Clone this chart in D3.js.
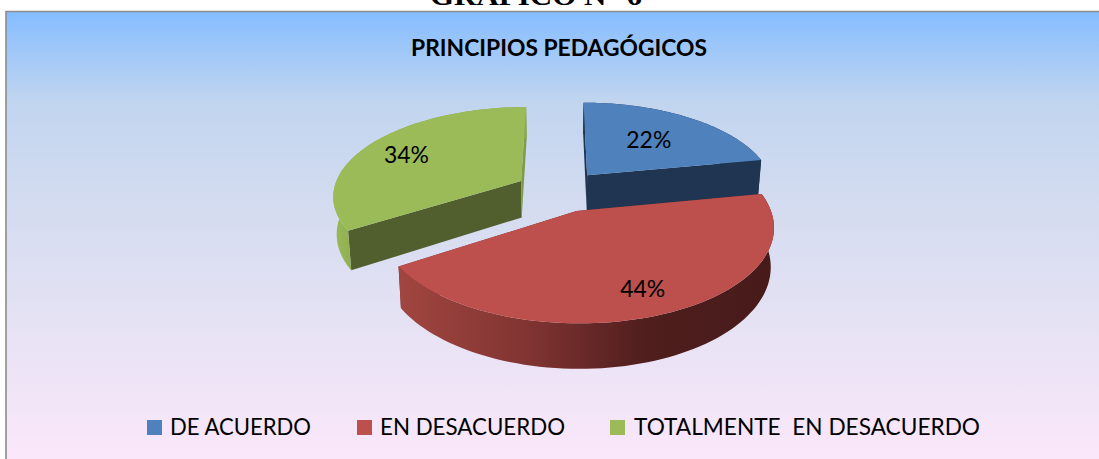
<!DOCTYPE html>
<html>
<head>
<meta charset="utf-8">
<script src="https://cdnjs.cloudflare.com/ajax/libs/d3/7.8.5/d3.min.js"></script>
<style>
  html, body { margin: 0; padding: 0; background: #fff; overflow: hidden; }
  text { font-family: Lato, "Open Sans", sans-serif; fill: #000; }
</style>
</head>
<body>
<div id="chart"></div>
<script>
// data
const categories = ["DE ACUERDO", "EN DESACUERDO", "TOTALMENTE  EN DESACUERDO"];
const percents = [22, 44, 34];
const topColors = ["#4f81bd", "#bd4f4c", "#9bbb59"];
const faceColors = ["#1f3552", "#7a2f2d", "#505f2d"];
const chartTitle = "PRINCIPIOS PEDAGÓGICOS";
const pageTitle = "GRÁFICO N° 6";

const width = 1099, height = 459;

const svg = d3.select("#chart").append("svg")
    .attr("width", width)
    .attr("height", height)
    .style("display", "block");

const defs = svg.append("defs");

// chart area background
const bg = defs.append("linearGradient").attr("id", "bg")
    .attr("x1", 0).attr("y1", 0).attr("x2", 0).attr("y2", 1);
[[0, "#85bdff"], [0.2, "#c1d5ef"], [0.45, "#d5dcf0"], [0.75, "#e9e3f5"], [1, "#fbe7fa"]]
    .forEach(s => bg.append("stop").attr("offset", s[0]).attr("stop-color", s[1]));

// sides of the red slice
const redSide = defs.append("linearGradient").attr("id", "redSide")
    .attr("gradientUnits", "userSpaceOnUse")
    .attr("x1", 403).attr("y1", 0).attr("x2", 775).attr("y2", 0);
[[0, "#a0453f"], [0.35, "#7f3331"], [0.65, "#4f1e1d"], [1, "#471b1a"]]
    .forEach(s => redSide.append("stop").attr("offset", s[0]).attr("stop-color", s[1]));

const greenSide = defs.append("linearGradient").attr("id", "greenSide")
    .attr("gradientUnits", "userSpaceOnUse")
    .attr("x1", 333).attr("y1", 0).attr("x2", 360).attr("y2", 0);
[[0, "#9bbb59"], [1, "#8aa84f"]]
    .forEach(s => greenSide.append("stop").attr("offset", s[0]).attr("stop-color", s[1]));

svg.append("rect")
    .attr("x", 6).attr("y", 12)
    .attr("width", width - 6).attr("height", height - 12)
    .attr("fill", "url(#bg)");
svg.append("path")
    .attr("d", "M6,459V11.5H1099")
    .attr("fill", "none")
    .attr("stroke", "#8c8c8c")
    .attr("stroke-width", 1.6);

// title of the page, cut by the top of the picture
svg.append("text")
    .attr("x", 430).attr("y", 5)
    .attr("textLength", 212)
    .attr("lengthAdjust", "spacingAndGlyphs")
    .style("font-family", "'Liberation Serif', serif")
    .style("font-weight", "bold")
    .style("font-size", "28px")
    .text(pageTitle);

svg.append("text")
    .attr("x", 411).attr("y", 56)
    .style("font-weight", "bold")
    .style("font-size", "23px")
    .attr("textLength", 296)
    .attr("lengthAdjust", "spacingAndGlyphs")
    .text(chartTitle);

// 3D pie: perspective projection of the exploded disc
const cx = 559.5, cy = 191;    // screen position of the disc centre
const R = 188, Rt = 88.2;      // horizontal and foreshortened radius
const persp = 0.153;           // far side gets smaller
const depth = 37;              // thickness of the disc
const explode = 0.237;

const pie = d3.pie().value(d => d).sort(null)(percents);

function project(d, angle, radius, z) {
    const mid = (d.startAngle + d.endAngle) / 2;
    const u = explode * Math.sin(mid) + radius * Math.sin(angle);
    const v = explode * Math.cos(mid) + radius * Math.cos(angle);
    const s = 1 / (1 + persp * v);
    return [
        cx + R * u * s * (z ? 0.985 : 1),
        cy - Rt * v * s + (z ? depth * s : 0)
    ];
}

function rimPoints(d, z) {
    return d3.range(0, 81).map(i => {
        const a = d.startAngle + (d.endAngle - d.startAngle) * i / 80;
        return project(d, a, 1, z);
    });
}

const line = d3.line();
const order = [0, 2, 1];   // far slices first, the red one lies over the rest
const layer = svg.append("g");

order.forEach(i => {
    const d = pie[i];
    const g = layer.append("g");
    const rimTop = rimPoints(d, false);
    const rimBottom = rimPoints(d, true);

    // the two cut walls
    [d.startAngle, d.endAngle].forEach((a, k) => {
        const wall = [project(d, a, 0, false), project(d, a, 1, false),
                      project(d, a, 1, true), project(d, a, 0, true)];
        const fill = (i === 2 && k === 1) ? "#7f9a48" : faceColors[i];
        g.append("path").attr("d", line(wall) + "Z").attr("fill", fill);
    });

    // outer wall
    g.append("path")
        .attr("d", line(rimTop.concat(rimBottom.slice().reverse())) + "Z")
        .attr("fill", i === 1 ? "url(#redSide)" : i === 2 ? "url(#greenSide)" : faceColors[i]);

    // top surface
    g.append("path")
        .attr("d", line([project(d, 0, 0, false)].concat(rimTop)) + "Z")
        .attr("fill", topColors[i]);
});

// percentage labels
const labelAt = [0.58, 0.79, 0.76];
const labelDy = [8, 7, 11];
svg.selectAll("text.pct")
    .data(pie)
    .join("text")
    .attr("class", "pct")
    .attr("text-anchor", "middle")
    .attr("textLength", 45)
    .attr("lengthAdjust", "spacingAndGlyphs")
    .style("font-size", "24px")
    .each(function(d, i) {
        const mid = (d.startAngle + d.endAngle) / 2;
        const p = project(d, mid, labelAt[i], false);
        d3.select(this).attr("x", p[0]).attr("y", p[1] + labelDy[i]);
    })
    .text(d => d.data + "%");

// legend
const legendX = [147, 357, 610];
const legendWidth = [141, 185, 346];
const legend = svg.selectAll("g.legend")
    .data(categories)
    .join("g")
    .attr("class", "legend");
legend.append("rect")
    .attr("x", (d, i) => legendX[i]).attr("y", 420)
    .attr("width", 15).attr("height", 15)
    .attr("fill", (d, i) => topColors[i]);
legend.append("text")
    .attr("x", (d, i) => legendX[i] + 22 + (i === 2 ? 2 : 1)).attr("y", 435)
    .attr("textLength", (d, i) => legendWidth[i])
    .attr("lengthAdjust", "spacingAndGlyphs")
    .style("font-size", "24px")
    .style("white-space", "pre")
    .text(d => d);
</script>
</body>
</html>
